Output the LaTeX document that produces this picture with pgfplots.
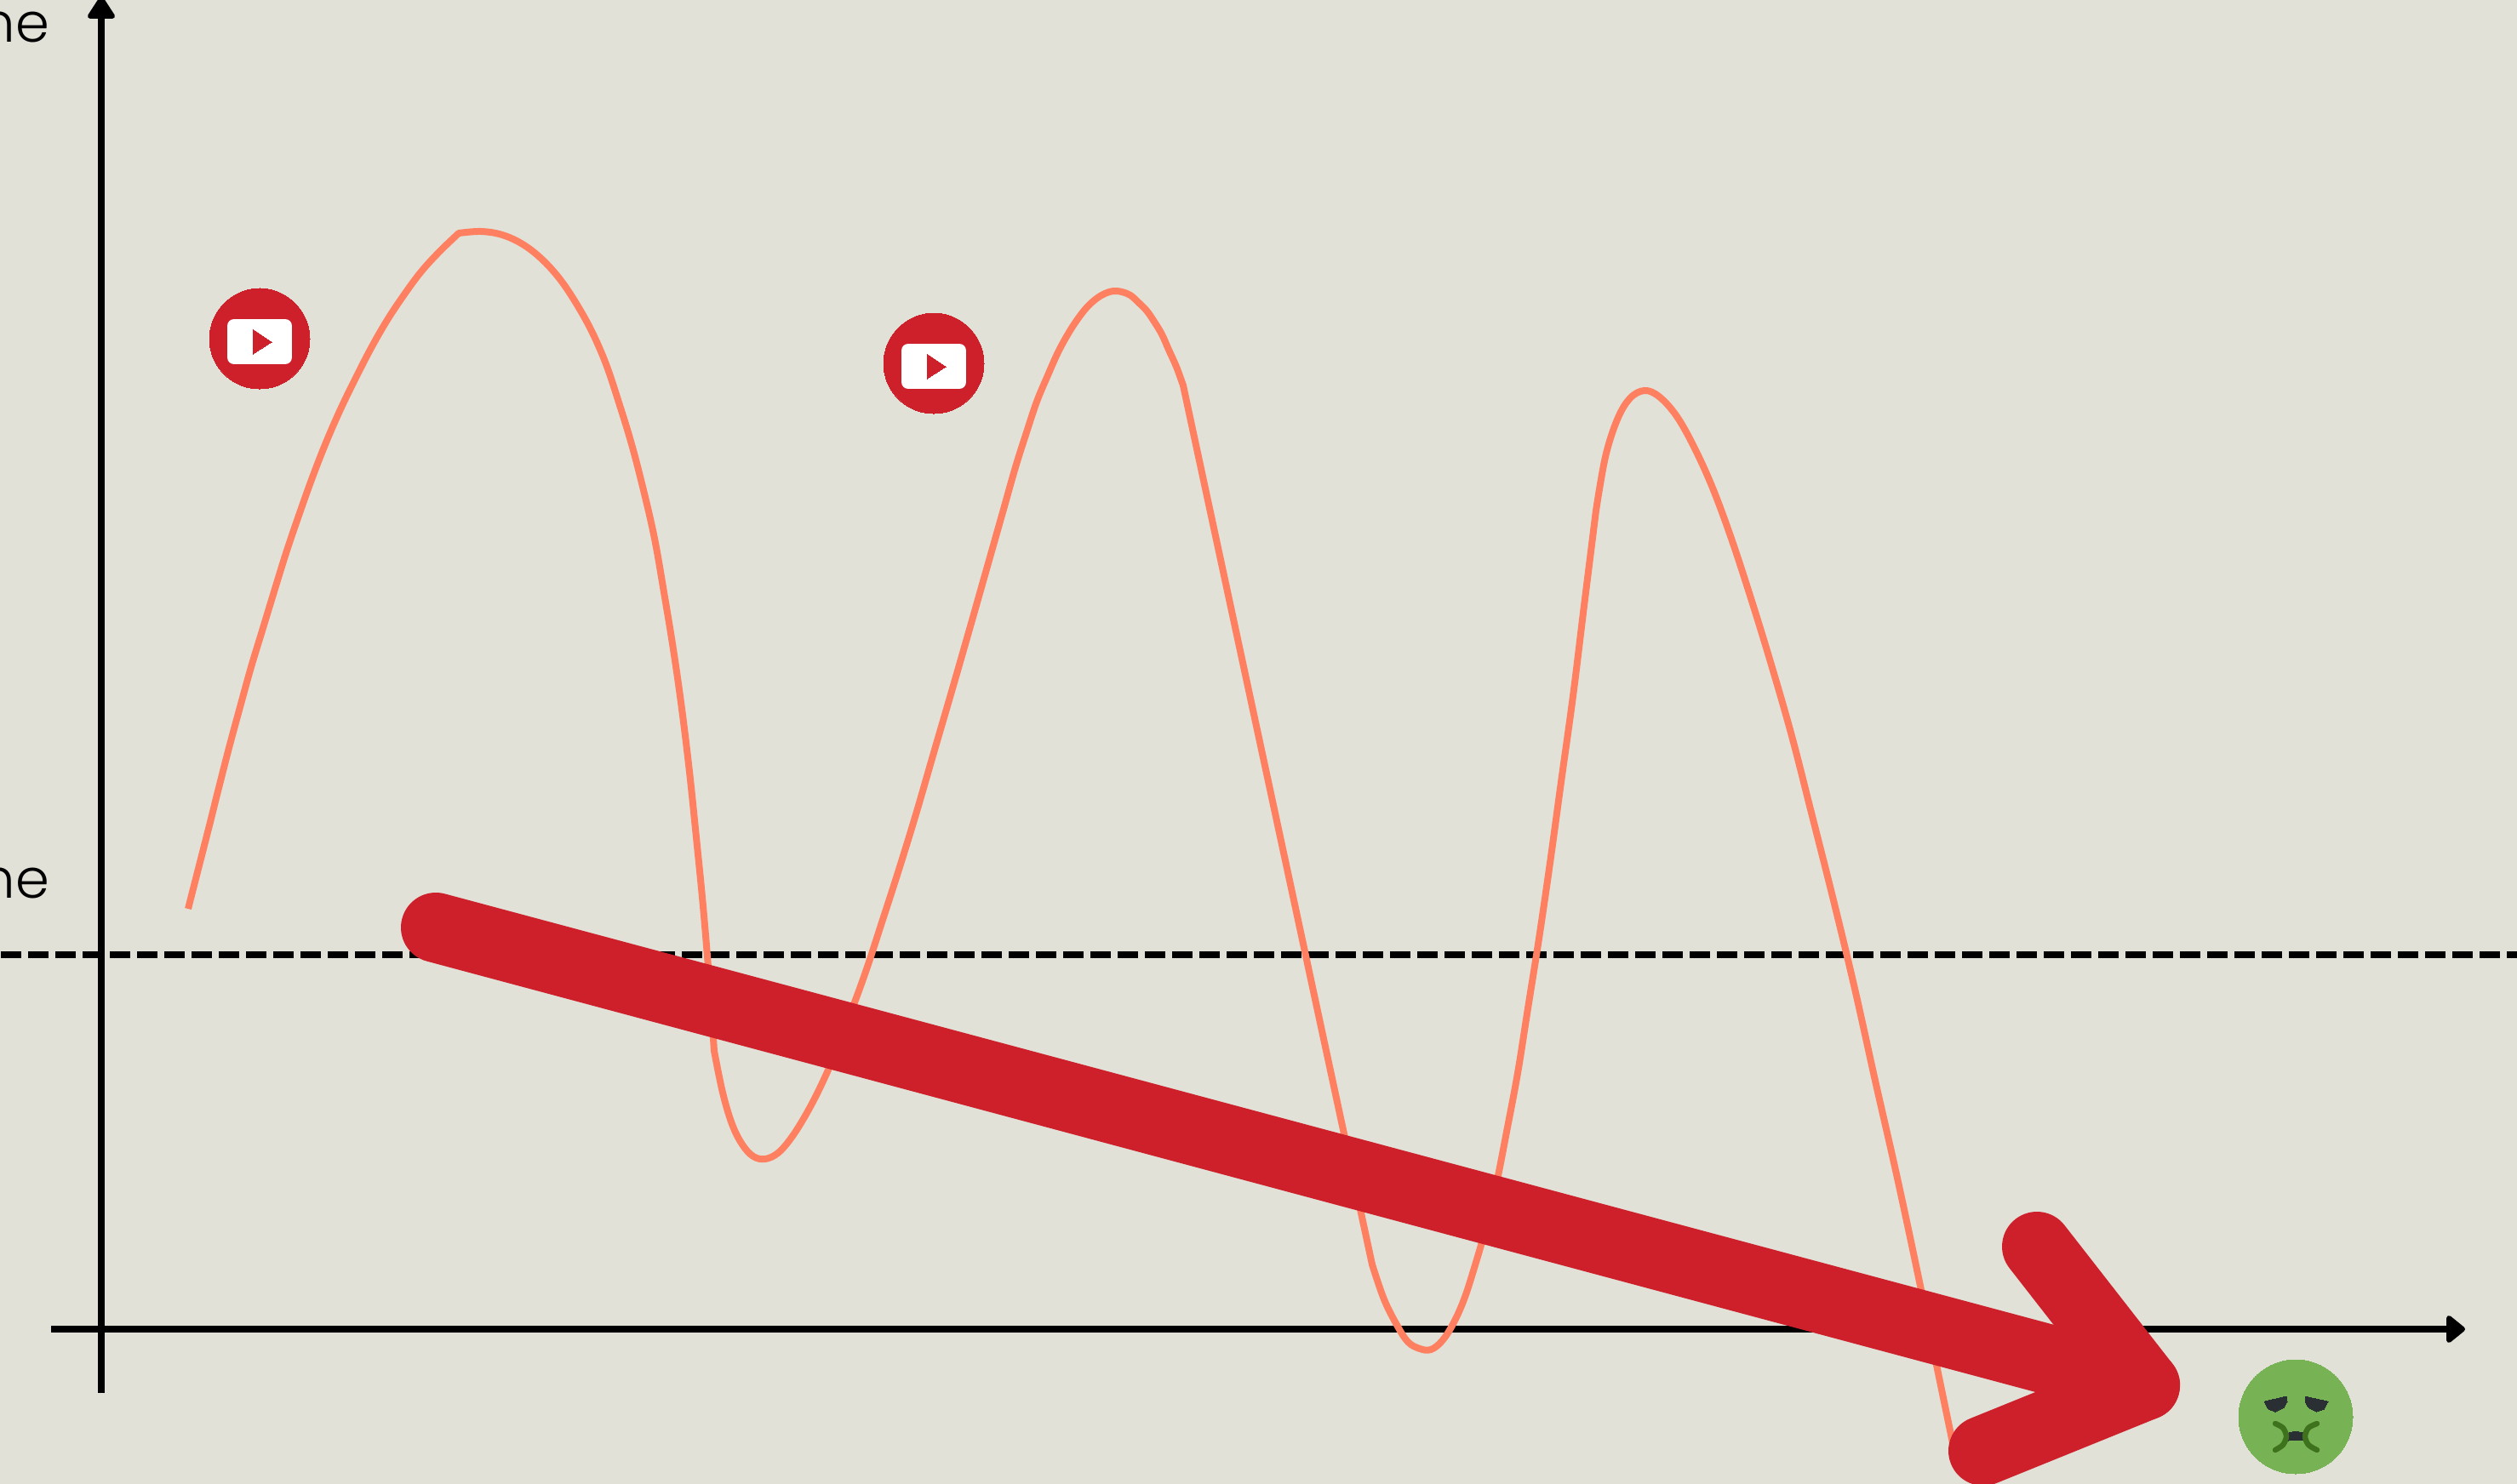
\documentclass[border=0pt]{standalone}
\usepackage{fontspec}
\setmainfont{Poppins Light}
\usepackage{pgfplots}
\pgfplotsset{compat=1.18}
\definecolor{bgc}{HTML}{E1E1D8}
\definecolor{curvec}{HTML}{FF8060}
\definecolor{redc}{HTML}{CD202A}
\definecolor{greenc}{HTML}{77B255}
\definecolor{dgreen}{HTML}{3E721D}
\definecolor{darkc}{HTML}{292F33}
\pgfplotsset{
    hype/.style={curvec, line width=2pt, line cap=round, smooth, tension=0.6},
    head/.style={black, fill=black, line width=1.5pt, line join=round},
    flat/.style={#1, fill=#1, line width=0pt},
    disc/.style 2 args={#1, only marks, mark=*, mark size=#2, mark options={fill=#1, draw=#1, line width=0pt}},
}
% coordinates are pixels of the reference, 1 px = 0.25 pt
\begin{document}
\begin{tikzpicture}
\clip[use as bounding box] (0,0) rectangle (739.25pt,436pt);
\begin{axis}[
    scale only axis,
    width=739.25pt,
    height=436pt,
    xmin=0, xmax=2957,
    ymin=0, ymax=1744,
    y dir=reverse,
    ticks=none,
    axis line style={draw=none},
    axis background/.style={fill=bgc},
    clip mode=individual,
]
% baseline
\addplot[black, line width=2pt, dash pattern=on 6pt off 2pt] coordinates {(1,1122) (2957,1122)};

% axes with their heads
\addplot[black, line width=2pt] coordinates {(119,10) (119,1637)};
\addplot[black, line width=2pt] coordinates {(60,1562) (2880,1562)};
\addplot[head] coordinates {(106,19) (132,19) (119,-1)} --cycle;
\addplot[head] coordinates {(2877,1549) (2877,1575) (2893,1562)} --cycle;

% the curve, split where the reference has a kink
\addplot[hype, line cap=butt] coordinates {
    (221,1068) (233,1021) (245,974) (257,926) (269,879) (282,831) (295,784) (309,738) (323,692) (337,647)
    (352,603) (367,561) (383,520) (400,481) (418,444) (436,409) (455,376) (475,346) (495,319) (517,295) (539,274)};
\addplot[hype] coordinates {
    (539,274) (565,272) (590,276) (614,287) (636,304) (657,327) (676,355) (695,389) (712,428) (727,473)
    (742,522) (756,576) (769,633) (780,696) (791,763) (801,833) (810,907) (818,984) (826,1065) (833,1149) (839,1235)};
\addplot[hype] coordinates {
    (839,1235) (849,1284) (860,1321) (872,1345) (885,1359) (899,1362) (914,1355) (929,1338) (945,1313) (962,1281)
    (980,1241) (998,1194) (1017,1142) (1036,1084) (1056,1022) (1076,957) (1096,888) (1117,816) (1138,743) (1159,669) (1180,595)};
\addplot[hype] coordinates {
    (1180,595) (1193,549) (1206,508) (1218,472) (1231,441) (1243,414) (1255,392) (1266,375) (1277,361) (1288,351)
    (1298,345) (1308,342) (1318,343) (1328,347) (1337,355) (1347,365) (1356,378) (1365,393) (1373,411) (1382,431) (1390,453)};
\addplot[hype] coordinates {(1390,453) (1612,1486)};
\addplot[hype] coordinates {
    (1612,1486) (1626,1527) (1641,1557) (1654,1577) (1668,1585) (1681,1586) (1694,1576) (1707,1556) (1720,1527) (1732,1490)
    (1745,1445) (1758,1391) (1770,1330) (1783,1261) (1795,1185) (1808,1103) (1821,1014) (1834,919) (1848,818) (1861,712) (1875,600)};
\addplot[hype] coordinates {
    (1875,600) (1886,537) (1900,493) (1915,468) (1932,459) (1949,466) (1969,488) (1989,523) (2011,571) (2033,630)
    (2056,700) (2080,778) (2105,865) (2129,959) (2154,1058) (2179,1162) (2203,1270) (2228,1380) (2252,1492) (2275,1604) (2298,1715)};

% the red arrow
\addplot[redc, line width=20.5pt, line cap=round] coordinates {(512,1090) (2520,1628)};
\addplot[redc, line width=20.5pt, line cap=round, line join=round] coordinates {(2393,1465) (2520,1628) (2330,1705)};

% YouTube icons
\addplot[disc={redc}{14.75pt}] coordinates {(305,398) (1097,427)};
\addplot[white, fill=white, line width=4pt, line join=round] coordinates {(275,383) (335,383) (335,420) (275,420)} --cycle;
\addplot[flat=redc] coordinates {(297,387) (319,402) (297,416)} --cycle;
\addplot[white, fill=white, line width=4pt, line join=round] coordinates {(1067,412) (1127,412) (1127,449) (1067,449)} --cycle;
\addplot[flat=redc] coordinates {(1089,416) (1111,431) (1089,445)} --cycle;

% sick face
\addplot[disc={greenc}{16.75pt}] coordinates {(2697,1665)};
\addplot[flat=darkc] coordinates {(2660,1647) (2686,1641) (2687,1647) (2683,1654) (2673,1659) (2665,1656)} --cycle;
\addplot[flat=darkc] coordinates {(2708,1641) (2735,1647) (2730,1656) (2721,1659) (2712,1654) (2708,1647)} --cycle;
\addplot[flat=darkc] coordinates {(2688,1684) (2697,1682) (2707,1684) (2707,1693) (2697,1692) (2688,1693)} --cycle;
\addplot[dgreen, line width=1.6pt, line cap=round, smooth] coordinates {(2673,1673) (2682,1678) (2686,1688) (2682,1698) (2673,1704)};
\addplot[dgreen, line width=1.6pt, line cap=round, smooth] coordinates {(2722,1673) (2712,1678) (2708,1688) (2712,1698) (2722,1704)};

% labels, cut by the left edge in the reference
\node[anchor=base east, inner sep=0pt, font=\fontsize{16}{18}\selectfont] at (axis cs:59,50) {ne};
\node[anchor=base east, inner sep=0pt, font=\fontsize{16}{18}\selectfont] at (axis cs:59,1055) {ne};
\end{axis}
\end{tikzpicture}
\end{document}
